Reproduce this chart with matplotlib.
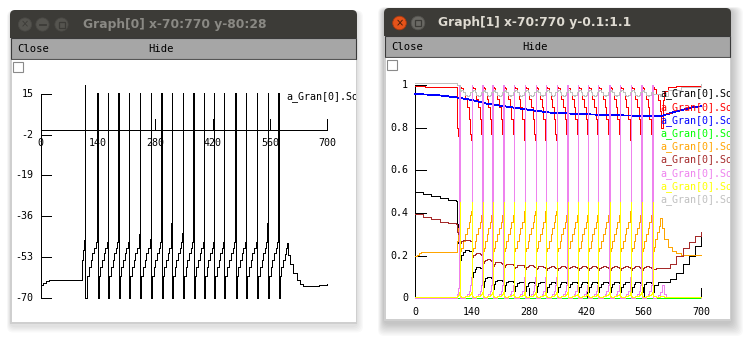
import numpy as np
import matplotlib.pyplot as plt
from matplotlib.patches import Rectangle, FancyBboxPatch, Circle

# spike times (ms), shared by both graphs
spike_t = [108.5, 138.7, 164.7, 189.5, 216.0, 242.0, 268.5, 295.0, 320.0, 346.5,
           372.5, 399.0, 423.5, 448.0, 475.5, 501.5, 528.0, 554.0, 580.5]

# fractions of an interspike interval where samples are read
frac = [0.03, 0.12, 0.28, 0.44, 0.59, 0.75, 0.9]

# ---- Graph[0]: membrane potential ----
v_pre_t = [0, 6, 12, 20, 102, 103.5, 105, 107]
v_pre = [-64.6, -63.6, -62.8, -62.5, -54, -50, -48, -46]
v_peak = [18.7] + [15.5] * 18
v_prepeak = [-44.5, -36.6, -36.6, -43.4, -43.4, -43.4, -45.5, -41.7, -38.9, -43.1,
             -34.1, -43.8, -42.4, -41.7, -43.8, -43.1, -43.1, -38.9, -43.1]
v_shape = [-70, -61, -57, -54.2, -51.4, -49.3, -46.6]
v_post_t = [581.3, 584, 588, 592, 596, 599, 601, 604, 610, 617, 625, 633, 641, 660, 680, 700]
v_post = [-70, -61, -57, -54, -51.5, -49, -47, -52, -56, -59.7, -62.5, -64.2, -65.2, -65, -64.6, -64.2]

# ---- Graph[1]: state variables ----
blk_pre_t = [0, 20, 40, 60, 80, 100, 102, 104, 106]
blk_pre = [0.5, 0.49, 0.48, 0.47, 0.462, 0.455, 0.45, 0.35, 0.26]
blk_lvl = [0.225, 0.145, 0.10, 0.087, 0.081, 0.078, 0.077, 0.076, 0.075,
           0.075, 0.075, 0.075, 0.075, 0.075, 0.075, 0.075, 0.075, 0.075]
blk_shape = [-0.045, -0.02, -0.006, 0.0, 0.0, -0.001, -0.004]
blk_post_t = [581.3, 585, 595, 610, 625, 640, 655, 670, 685, 700]
blk_post = [0.03, 0.06, 0.075, 0.075, 0.09, 0.12, 0.16, 0.2, 0.245, 0.285]

red_pre_t = [0, 24, 100, 102, 104, 106]
red_pre = [0.995, 0.99, 0.99, 0.9, 0.8, 0.76]
red_min = [0.758, 0.586, 0.586, 0.72, 0.648, 0.625, 0.75, 0.68, 0.625, 0.70,
           0.563, 0.68, 0.72, 0.66, 0.72, 0.68, 0.758, 0.648, 0.71]
red_shape = [0.99, 0.985, 0.965, 0.935, 0.895, 0.84, 0.77]
red_post_t = [581.3, 585, 590, 595, 600, 603, 606, 610, 620, 640, 700]
red_post = [0.99, 0.98, 0.96, 0.93, 0.88, 0.8, 0.93, 0.97, 0.99, 0.995, 1.0]

blue_t = [0, 53, 102, 139, 179, 252, 294, 334, 416, 497, 579, 603, 637, 685, 700]
blue_v = [0.958, 0.953, 0.942, 0.93, 0.911, 0.891, 0.88, 0.87, 0.863, 0.858, 0.855,
          0.855, 0.875, 0.898, 0.9]

grn_t = [0, 700]
grn_v = [0.0, 0.0]

org_pre_t = [0, 5, 10, 15, 102, 104, 106, 108]
org_pre = [0.2, 0.205, 0.21, 0.215, 0.215, 0.27, 0.33, 0.37]
org_peak = [0.6] * 19
org_shape = [0.22, 0.235, 0.27, 0.3, 0.33, 0.36, 0.39]
org_post_t = [581.3, 584, 588, 592, 596, 600, 604, 610, 620, 630, 640, 650, 700]
org_post = [0.22, 0.24, 0.28, 0.31, 0.34, 0.375, 0.33, 0.28, 0.24, 0.22, 0.21, 0.205, 0.205]

brn_pre_t = [0, 20, 40, 60, 80, 100, 102, 104, 106]
brn_pre = [0.395, 0.38, 0.37, 0.36, 0.355, 0.35, 0.33, 0.31, 0.30]
brn_lvl = [0.27, 0.205, 0.178, 0.165, 0.157, 0.152, 0.149, 0.147, 0.146,
           0.145, 0.145, 0.145, 0.145, 0.145, 0.145, 0.145, 0.145, 0.145]
brn_shape = [-0.012, -0.003, 0.003, 0.005, 0.005, 0.002, -0.003]
brn_post_t = [581.3, 590, 600, 610, 625, 640, 655, 670, 685, 700]
brn_post = [0.135, 0.14, 0.14, 0.14, 0.16, 0.2, 0.235, 0.265, 0.29, 0.31]

vio_pre_t = [0, 102, 104, 106, 107.5]
vio_pre = [0.0, 0.0, 0.02, 0.05, 0.1]
vio_shape = [0.0, 0.0, 0.003, 0.01, 0.02, 0.035, 0.06]
vio_post_t = [581.3, 585, 590, 595, 600, 605, 610, 615, 700]
vio_post = [0.0, 0.0, 0.005, 0.015, 0.03, 0.06, 0.02, 0.005, 0.0]

yel_pre_t = [0, 102, 104, 106, 108]
yel_pre = [0.008, 0.008, 0.01, 0.015, 0.02]
yel_peak = [0.45] * 19
yel_shape = [0.012, 0.008, 0.008, 0.01, 0.012, 0.016, 0.022]
yel_post_t = [581.3, 590, 600, 610, 700]
yel_post = [0.012, 0.008, 0.012, 0.008, 0.008]

gry_pre_t = [0, 100, 102]
gry_pre = [1.01, 1.01, 1.0]
gry_shape = [0.97, 0.975, 0.965, 0.955, 0.95, 0.955, 0.965]
gry_post_t = [581.3, 600, 620, 650, 700]
gry_post = [0.96, 0.95, 0.975, 0.99, 1.005]

legend_cols = ['black', 'red', 'blue', '#00ff00', 'orange', 'brown', 'violet',
               'yellow', 'silver']


def build(pre_t, pre_v, post_t, post_v, shape, lvl=None, peak=None,
          prepeak=None, peak_dt=0.0):
    t, v = list(pre_t), list(pre_v)
    for k, ts in enumerate(spike_t):
        if prepeak is not None:
            t.append(ts - 0.8)
            v.append(prepeak[k])
        if peak is not None:
            t.append(ts + peak_dt)
            v.append(peak[k])
        if k < len(spike_t) - 1:
            span = spike_t[k + 1] - ts
            off = lvl[k] if lvl is not None else 0.0
            for f, s in zip(frac, shape):
                t.append(ts + f * span)
                v.append(s + off)
    return t + list(post_t), v + list(post_v)


W, H = 750, 339
fig = plt.figure(figsize=(W / 100, H / 100), dpi=100)
fig.patch.set_facecolor('white')
bg = fig.add_axes([0, 0, 1, 1])
bg.set_xlim(0, W)
bg.set_ylim(H, 0)
bg.axis('off')

mono = 'DejaVu Sans Mono'
FS = 7.2


def window(x0, y0, x1, y1, title, active):
    # drop shadow
    n = 10 if active else 5
    for i in range(n, 0, -1):
        bg.add_patch(FancyBboxPatch((x0 - i * 0.6, y0 + 2 - i * 0.3), x1 - x0 + i * 1.8,
                                    y1 - y0 + i * 1.6, boxstyle='round,pad=0,rounding_size=6',
                                    fc='black', ec='none', alpha=0.025))
    bg.add_patch(Rectangle((x0, y0 + 6), x1 - x0, y1 - y0 - 6, fc='#cfcfcf', ec='none'))
    bg.add_patch(FancyBboxPatch((x0, y0), x1 - x0, 20, boxstyle='round,pad=0,rounding_size=5',
                                fc='#3c3b37', ec='none'))
    bg.add_patch(Rectangle((x0, y0 + 12), x1 - x0, 16, fc='#3c3b37', ec='none'))
    # menu bar
    bg.add_patch(Rectangle((x0 + 1, y0 + 28), x1 - x0 - 2, 21, fc='#a6a6a6', ec='#3a3a3a', lw=0.8))
    bg.add_patch(Rectangle((x0 + 1, y0 + 49), x1 - x0 - 2, 1.2, fc='#555555', ec='none'))
    # canvas
    bg.add_patch(Rectangle((x0 + 1.5, y0 + 50), x1 - x0 - 3, y1 - y0 - 52, fc='white', ec='none'))
    bg.add_patch(Rectangle((x0 + 2.5, y0 + 51.5), 10, 10.5, fc='white', ec='#8a8a8a', lw=0.8))
    bg.text(x0 + 7, y0 + 39.5, 'Close', family=mono, fontsize=7.6, va='center', color='black')
    bg.text(x0 + 138, y0 + 39.5, 'Hide', family=mono, fontsize=7.6, va='center', color='black')
    if active:
        bg.add_patch(Circle((x0 + 15.5, y0 + 15), 6.8, fc='#e5531a', ec='#a83a10', lw=0.6))
        bg.text(x0 + 15.5, y0 + 15, '×', fontsize=7, color='#3c1a08', ha='center', va='center')
        bg.add_patch(Circle((x0 + 34, y0 + 15), 6.8, fc='#6a6964', ec='#555450', lw=0.6))
        bg.add_patch(Rectangle((x0 + 31, y0 + 12), 6, 6, fc='none', ec='#3c3b37', lw=0.9))
        bg.text(x0 + 54, y0 + 14.5, title, fontsize=8.8, weight='bold', color='#dfdbd2', va='center')
    else:
        for i, cx in enumerate([15, 32.5, 51.5]):
            bg.add_patch(Circle((x0 + cx, y0 + 14.5), 6.6, fc='#55544f', ec='#4a4945', lw=0.6))
        bg.text(x0 + 15, y0 + 14.5, '×', fontsize=7, color='#3c3b37', ha='center', va='center')
        bg.plot([x0 + 29.5, x0 + 35.5], [y0 + 14.5, y0 + 14.5], color='#3c3b37', lw=1.3)
        bg.add_patch(Rectangle((x0 + 48.5, y0 + 11.5), 6, 6, fc='none', ec='#3c3b37', lw=0.9))
        bg.text(x0 + 73, y0 + 14.5, title, fontsize=8.8, weight='bold', color='#8a8984', va='center')


window(10, 10, 357, 324, 'Graph[0] x-70:770 y-80:28', False)
window(384, 8, 731, 321, 'Graph[1] x-70:770 y-0.1:1.1', True)


def canvas(x0, y0, x1, y1, ylim):
    ax = fig.add_axes([x0 / W, 1 - y1 / H, (x1 - x0) / W, (y1 - y0) / H])
    ax.set_xlim(-70, 770)
    ax.set_ylim(*ylim)
    ax.axis('off')
    return ax


LW = 0.6
AA = False

# ---------- left graph ----------
axl = canvas(12, 62.5, 356, 322, (-80, 28))
yt = [15, -2, -19, -36, -53, -70]
axl.plot([0, 0], [-70, 15], color='black', lw=LW, antialiased=AA)
for y in yt:
    axl.plot([0, 26], [y, y], color='black', lw=LW, antialiased=AA)
    axl.text(-17, y, str(y), family=mono, fontsize=FS, ha='right', va='center')
axl.plot([0, 700], [0, 0], color='black', lw=LW, antialiased=AA)
for x in [0, 140, 280, 420, 560, 700]:
    if x > 0:
        axl.plot([x, x], [0, 4.4], color='black', lw=LW, antialiased=AA)
    axl.text(x, -5.3, str(x), family=mono, fontsize=FS, ha='center', va='center')

tv, vv = build(v_pre_t, v_pre, v_post_t, v_post, v_shape, peak=v_peak, prepeak=v_prepeak)
axl.plot(tv, vv, color='black', lw=LW, drawstyle='steps-post', antialiased=AA)
axl.text(600, 13.9, 'a_Gran[0].Soma', family=mono, fontsize=FS, va='center', clip_on=True)

# ---------- right graph ----------
axr = canvas(386.4, 63.7, 729.6, 319.6, (-0.1, 1.1))
axr.plot([0, 0], [0, 1], color='black', lw=LW, antialiased=AA)
for y, lab in zip([0, 0.2, 0.4, 0.6, 0.8, 1.0], ['0', '0.2', '0.4', '0.6', '0.8', '1']):
    axr.plot([0, 26], [y, y], color='black', lw=LW, antialiased=AA)
    axr.text(-17, y, lab, family=mono, fontsize=FS, ha='right', va='center')
axr.plot([0, 700], [0, 0], color='black', lw=LW, antialiased=AA)
for x in [0, 140, 280, 420, 560, 700]:
    if x > 0:
        axr.plot([x, x], [0, 0.047], color='black', lw=LW, antialiased=AA)
    axr.text(x, -0.0627, str(x), family=mono, fontsize=FS, ha='center', va='center')

traces = [
    build(blk_pre_t, blk_pre, blk_post_t, blk_post, blk_shape, lvl=blk_lvl),
    build(red_pre_t, red_pre, red_post_t, red_post, red_shape, peak=red_min,
          prepeak=[0.74] * 19),
    (blue_t, blue_v),
    (grn_t, grn_v),
    build(org_pre_t, org_pre, org_post_t, org_post, org_shape, peak=org_peak,
          prepeak=[0.41] * 19, peak_dt=0.5),
    build(brn_pre_t, brn_pre, brn_post_t, brn_post, brn_shape, lvl=brn_lvl),
    build(vio_pre_t, vio_pre, vio_post_t, vio_post, vio_shape, peak=[1.0] * 19,
          prepeak=[0.1] * 19),
    build(yel_pre_t, yel_pre, yel_post_t, yel_post, yel_shape, peak=yel_peak,
          prepeak=[0.03] * 19, peak_dt=1.0),
    build(gry_pre_t, gry_pre, gry_post_t, gry_post, gry_shape),
]
for (t, v), c in zip(traces, legend_cols):
    style = 'default' if c == 'blue' else 'steps-post'
    axr.plot(t, v, color=c, lw=LW, drawstyle=style, antialiased=AA)

for i, c in enumerate(legend_cols):
    axr.text(600, 0.958 - i * 0.0619, 'a_Gran[0].Soma', family=mono, fontsize=FS,
             color=c, va='center', clip_on=True)

fig.savefig('out.png', dpi=100)
